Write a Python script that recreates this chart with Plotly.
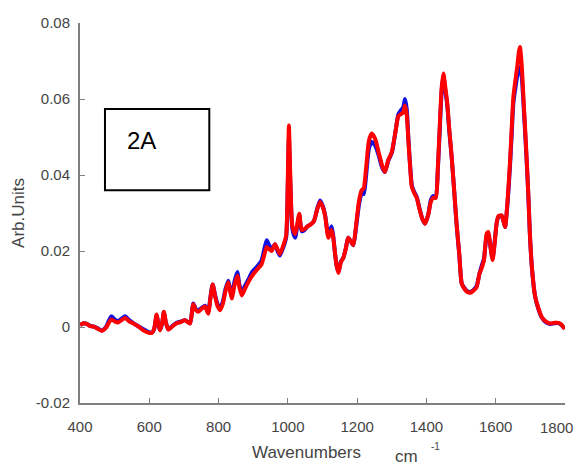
import plotly.graph_objects as go

wavenumbers = [400, 410, 420, 430, 440, 450, 463, 475, 490, 500, 510, 520, 530, 542, 554, 568, 583, 595, 607, 614,
               621, 627, 631, 637, 642, 648, 655, 667, 679, 691, 703, 712, 718, 727, 734, 741, 751, 761, 770, 777,
               783, 790, 797, 804, 812, 820, 828, 833, 838, 846, 854, 860, 867, 876, 886, 897, 910, 924, 932, 939,
               946, 953, 963, 970, 977, 987, 995, 1000, 1003, 1007, 1013, 1021, 1027, 1033, 1040, 1048, 1057, 1066, 1075, 1085,
               1093, 1101, 1108, 1117, 1126, 1131, 1136, 1141, 1146, 1153, 1160, 1167, 1174, 1182, 1189, 1196, 1205, 1213, 1219, 1226,
               1234, 1242, 1252, 1262, 1272, 1280, 1290, 1300, 1310, 1319, 1326, 1333, 1338, 1343, 1348, 1353, 1358, 1365, 1372, 1380,
               1388, 1396, 1405, 1413, 1420, 1427, 1433, 1439, 1444, 1449, 1454, 1460, 1466, 1473, 1480, 1487, 1495, 1502, 1510, 1518,
               1526, 1535, 1545, 1553, 1559, 1566, 1574, 1579, 1585, 1591, 1597, 1603, 1608, 1617, 1622, 1627, 1634, 1641, 1646, 1651,
               1657, 1662, 1667, 1670, 1675, 1680, 1685, 1690, 1695, 1699, 1706, 1714, 1723, 1733, 1745, 1757, 1770, 1781, 1790, 1795,
               1800]

red_series = [0.0005, 0.0010, 0.0008, 0.0002, 0.0001, -0.0004, -0.0010, -0.0002, 0.0020, 0.0015, 0.0012, 0.0018, 0.0024, 0.0015, 0.0009, 0.0002, -0.0009, -0.0014, -0.0016, -0.0005,
              0.0033, 0.0005, -0.0009, 0.0010, 0.0040, 0.0012, -0.0007, 0.0002, 0.0010, 0.0013, 0.0018, 0.0012, 0.0009, 0.0060, 0.0045, 0.0040, 0.0048, 0.0054, 0.0035, 0.0080,
              0.0112, 0.0080, 0.0055, 0.0044, 0.0060, 0.0095, 0.0118, 0.0095, 0.0075, 0.0110, 0.0135, 0.0105, 0.0083, 0.0100, 0.0118, 0.0135, 0.0150, 0.0165, 0.0190, 0.0210,
              0.0205, 0.0200, 0.0218, 0.0205, 0.0192, 0.0215, 0.0240, 0.0400, 0.0530, 0.0400, 0.0265, 0.0245, 0.0270, 0.0298, 0.0255, 0.0258, 0.0265, 0.0270, 0.0278, 0.0310,
              0.0329, 0.0315, 0.0290, 0.0235, 0.0255, 0.0235, 0.0195, 0.0160, 0.0142, 0.0170, 0.0182, 0.0205, 0.0235, 0.0225, 0.0215, 0.0260, 0.0330, 0.0360, 0.0365, 0.0420,
              0.0490, 0.0509, 0.0495, 0.0460, 0.0425, 0.0408, 0.0440, 0.0460, 0.0510, 0.0555, 0.0560, 0.0565, 0.0583, 0.0560, 0.0490, 0.0420, 0.0368, 0.0352, 0.0340, 0.0310,
              0.0285, 0.0272, 0.0295, 0.0330, 0.0340, 0.0340, 0.0420, 0.0540, 0.0630, 0.0667, 0.0635, 0.0590, 0.0520, 0.0447, 0.0360, 0.0272, 0.0190, 0.0114, 0.0100, 0.0092,
              0.0090, 0.0095, 0.0105, 0.0140, 0.0154, 0.0175, 0.0246, 0.0250, 0.0210, 0.0176, 0.0220, 0.0275, 0.0292, 0.0294, 0.0280, 0.0263, 0.0330, 0.0430, 0.0520, 0.0605,
              0.0650, 0.0684, 0.0725, 0.0737, 0.0690, 0.0605, 0.0520, 0.0430, 0.0330, 0.0237, 0.0140, 0.0079, 0.0050, 0.0026, 0.0014, 0.0009, 0.0011, 0.0011, 0.0006, 0.0000,
              -0.0004]

blue_series = [0.0005, 0.0010, 0.0008, 0.0003, 0.0001, -0.0003, -0.0009, 0.0000, 0.0028, 0.0020, 0.0016, 0.0022, 0.0028, 0.0018, 0.0010, 0.0002, -0.0006, -0.0012, -0.0015, -0.0006,
               0.0030, 0.0004, -0.0008, 0.0009, 0.0038, 0.0012, -0.0006, 0.0003, 0.0011, 0.0014, 0.0018, 0.0013, 0.0010, 0.0062, 0.0048, 0.0044, 0.0050, 0.0056, 0.0040, 0.0082,
               0.0112, 0.0084, 0.0060, 0.0050, 0.0066, 0.0100, 0.0122, 0.0100, 0.0085, 0.0120, 0.0145, 0.0112, 0.0092, 0.0108, 0.0125, 0.0145, 0.0158, 0.0175, 0.0205, 0.0228,
               0.0215, 0.0205, 0.0218, 0.0200, 0.0188, 0.0210, 0.0235, 0.0380, 0.0500, 0.0380, 0.0258, 0.0235, 0.0265, 0.0295, 0.0252, 0.0255, 0.0265, 0.0270, 0.0278, 0.0312,
               0.0333, 0.0318, 0.0292, 0.0240, 0.0265, 0.0240, 0.0195, 0.0160, 0.0145, 0.0172, 0.0182, 0.0205, 0.0235, 0.0225, 0.0215, 0.0255, 0.0320, 0.0352, 0.0350, 0.0400,
               0.0470, 0.0487, 0.0478, 0.0452, 0.0420, 0.0408, 0.0438, 0.0458, 0.0510, 0.0560, 0.0570, 0.0578, 0.0600, 0.0575, 0.0495, 0.0425, 0.0372, 0.0355, 0.0342, 0.0312,
               0.0285, 0.0272, 0.0295, 0.0335, 0.0345, 0.0340, 0.0415, 0.0530, 0.0620, 0.0660, 0.0625, 0.0585, 0.0515, 0.0445, 0.0360, 0.0270, 0.0188, 0.0114, 0.0102, 0.0094,
               0.0092, 0.0097, 0.0108, 0.0140, 0.0160, 0.0180, 0.0240, 0.0245, 0.0210, 0.0180, 0.0225, 0.0275, 0.0290, 0.0292, 0.0280, 0.0263, 0.0325, 0.0420, 0.0505, 0.0590,
               0.0630, 0.0660, 0.0680, 0.0684, 0.0660, 0.0590, 0.0510, 0.0425, 0.0328, 0.0237, 0.0140, 0.0079, 0.0048, 0.0025, 0.0012, 0.0008, 0.0010, 0.0010, 0.0005, 0.0000,
               -0.0004]

x_ticks = [400, 600, 800, 1000, 1200, 1400, 1600, 1800]
x_tick_labels = ["400", "600", "800", "1000", "1200", "1400", "1600", ""]
last_x_label = "1800"
y_ticks = [-0.02, 0, 0.02, 0.04, 0.06, 0.08]
y_tick_labels = ["-0.02", "0", "0.02", "0.04", "0.06", "0.08"]

fig = go.Figure()
fig.add_trace(go.Scatter(x=wavenumbers, y=blue_series, mode="lines",
                         line=dict(color="#1010e0", width=4, shape="spline", smoothing=0.6),
                         showlegend=False, hoverinfo="skip"))
fig.add_trace(go.Scatter(x=wavenumbers, y=red_series, mode="lines",
                         line=dict(color="#ff0000", width=4, shape="spline", smoothing=0.6),
                         showlegend=False, hoverinfo="skip"))

axis_font = dict(family="Liberation Sans, Arial, sans-serif", size=15, color="#444444")

fig.update_layout(
    width=576, height=457,
    margin=dict(l=72, r=19, t=15, b=62),
    paper_bgcolor="white", plot_bgcolor="white",
    xaxis=dict(range=[400, 1800], tickvals=x_ticks, ticktext=x_tick_labels, ticks="inside", ticklen=5,
               tickcolor="#808080", showline=True, linecolor="#808080", linewidth=2, showgrid=False,
               zeroline=False, tickfont=axis_font, ticklabelstandoff=9, automargin=False,
               ticklabeloverflow="allow"),
    yaxis=dict(range=[-0.02, 0.08], tickvals=y_ticks, ticktext=y_tick_labels, ticks="inside", ticklen=5,
               tickcolor="#808080", showline=True, linecolor="#808080", linewidth=2, showgrid=False,
               zeroline=False, tickfont=axis_font, ticklabelstandoff=5, automargin=False,
               ticklabeloverflow="allow"),
    shapes=[dict(type="rect", xref="paper", yref="paper", x0=0.0515, x1=0.2666, y0=0.5597, y1=0.7737,
                 line=dict(color="black", width=2), fillcolor="rgba(0,0,0,0)")],
    annotations=[
        dict(text=last_x_label, xref="x", yref="paper", x=x_ticks[-1], y=0, xanchor="right", yanchor="middle",
             xshift=10, yshift=-24, showarrow=False, font=axis_font),
        dict(text="2A", xref="paper", yref="paper", x=0.126, y=0.69, showarrow=False,
             xanchor="center", yanchor="middle",
             font=dict(family="Liberation Sans, Arial, sans-serif", size=24, color="black")),
        dict(text="Arb.Units", xref="paper", yref="paper", x=-0.128, y=0.5, textangle=-90, showarrow=False,
             xanchor="center", yanchor="middle",
             font=dict(family="Liberation Sans, Arial, sans-serif", size=17, color="#444444")),
        dict(text="Wavenumbers", xref="paper", yref="paper", x=0.3505, y=-0.13, showarrow=False,
             xanchor="left", yanchor="middle",
             font=dict(family="Liberation Sans, Arial, sans-serif", size=17, color="#444444")),
        dict(text="cm", xref="paper", yref="paper", x=0.645, y=-0.14, showarrow=False,
             xanchor="left", yanchor="middle",
             font=dict(family="Liberation Sans, Arial, sans-serif", size=17, color="#444444")),
        dict(text="-1", xref="paper", yref="paper", x=0.72, y=-0.115, showarrow=False,
             xanchor="left", yanchor="middle",
             font=dict(family="Liberation Sans, Arial, sans-serif", size=10, color="#444444")),
    ],
)

fig.write_html("out.html")
